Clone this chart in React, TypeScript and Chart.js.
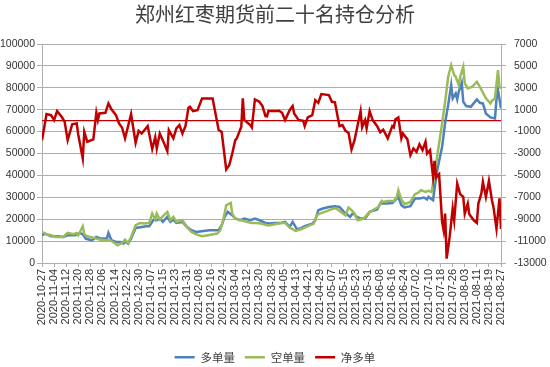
import { useEffect, useRef } from "react";
import { Chart, registerables } from "chart.js";

Chart.register(...registerables);

const titleText = "郑州红枣期货前二十名持仓分析";
const seriesNames = ["多单量", "空单量", "净多单"];

// x positions are day offsets from 2020-10-27 (date axis, label every 8 days)
const tickLabels = [
  "2020-10-27", "2020-11-04", "2020-11-12", "2020-11-20", "2020-11-28", "2020-12-06",
  "2020-12-14", "2020-12-22", "2020-12-30", "2021-01-07", "2021-01-15", "2021-01-23",
  "2021-01-31", "2021-02-08", "2021-02-16", "2021-02-24", "2021-03-04", "2021-03-12",
  "2021-03-20", "2021-03-28", "2021-04-05", "2021-04-13", "2021-04-21", "2021-04-29",
  "2021-05-07", "2021-05-15", "2021-05-23", "2021-05-31", "2021-06-08", "2021-06-16",
  "2021-06-24", "2021-07-02", "2021-07-10", "2021-07-18", "2021-07-26", "2021-08-03",
  "2021-08-11", "2021-08-19", "2021-08-27",
];

const longDays = [
  0, 2, 6, 11, 14, 17, 22, 25, 27, 29, 33, 36, 39, 43, 44, 46, 49, 52, 54, 55, 57, 59, 62, 66, 69, 71,
  74, 76, 78, 80, 83, 85, 87, 89, 93, 96, 99, 102, 107, 111, 117, 119, 121, 123, 126, 128, 131, 134,
  138, 141, 144, 148, 151, 154, 158, 161, 164, 166, 169, 171, 174, 179, 181, 183, 186, 190, 194, 197,
  200, 202, 204, 206, 208, 211, 214, 217, 222, 224, 226, 228, 232, 234, 236, 238, 240, 244, 247, 250,
  253, 255, 256, 259, 260, 262, 265, 267, 269, 271, 272, 274, 275, 276, 278, 279, 281, 284, 288, 290,
  292, 294, 297, 300, 301, 302, 304,
];
const longValues = [
  12660, 13440, 12200, 12200, 11890, 12660, 12660, 13720, 13120, 11150, 10380, 11890, 11150, 11150,
  13720, 10380, 9600, 9600, 8870, 9920, 8870, 11150, 16000, 16460, 16780, 16780, 19800, 19520, 20300,
  18750, 21030, 18750, 19840, 18290, 18750, 16460, 14950, 14170, 14630, 14950, 14950, 17240, 21030,
  23320, 21810, 20300, 19520, 20300, 19520, 20300, 19520, 18290, 18000, 18290, 18290, 18750, 16460,
  18750, 15270, 15730, 16780, 18000, 19520, 24100, 24870, 25600, 25930, 25600, 23320, 22270, 21030,
  22860, 21340, 20300, 20300, 23320, 24410, 27160, 27160, 27160, 27430, 28670, 30170, 26380, 25330,
  25930, 29440, 29440, 29900, 28990, 30170, 28670, 34000, 43150, 53030, 64000, 72100, 81250, 75160,
  77450, 74700, 78180, 82300, 73600, 71640, 71330, 74700, 73150, 72870, 68300, 66480, 66020, 74700,
  78960, 70590,
];

const shortDays = [
  0, 3, 6, 9, 14, 17, 21, 23, 24, 27, 28, 30, 34, 38, 42, 45, 48, 50, 53, 55, 57, 59, 62, 65, 68, 71,
  73, 75, 76, 78, 80, 83, 85, 87, 89, 93, 96, 99, 102, 106, 110, 116, 118, 120, 122, 125, 126, 128,
  132, 136, 139, 142, 145, 149, 151, 154, 159, 161, 164, 168, 171, 174, 180, 182, 184, 189, 193, 195,
  198, 201, 203, 205, 207, 209, 213, 216, 219, 223, 225, 226, 229, 233, 235, 236, 238, 240, 244, 247,
  249, 251, 254, 256, 258, 260, 262, 265, 267, 269, 271, 273, 274, 276, 277, 279, 280, 282, 285, 288,
  290, 294, 297, 298, 300, 302, 303, 304,
];
const shortValues = [
  14170, 13120, 12660, 11890, 11890, 13720, 13120, 13720, 12660, 16780, 13120, 12200, 11600, 10700,
  10380, 10380, 9140, 8100, 9140, 10700, 9140, 11890, 17240, 18290, 18000, 18290, 22580, 19840, 22580,
  19840, 21340, 23320, 19520, 21030, 18750, 19520, 16460, 14170, 13120, 12200, 12660, 13440, 14950,
  19520, 26380, 27430, 22580, 20300, 19520, 18750, 18290, 18290, 18000, 17240, 17240, 17700, 18290,
  18290, 16180, 14630, 15270, 16180, 18000, 21810, 22580, 23780, 24870, 24870, 23320, 21810, 25330,
  24100, 22580, 19520, 20300, 22580, 24100, 25600, 28350, 27890, 28350, 28350, 30170, 33240, 28990,
  26840, 27890, 31410, 32000, 33240, 32460, 33000, 32460, 40100, 50020, 63730, 73600, 85040, 90390,
  85820, 85040, 81250, 85040, 89610, 82020, 79730, 80460, 82750, 80460, 75160, 72870, 74060, 75160,
  88100, 80460, 79730,
];

const netDays = [
  0, 3, 6, 8, 10, 13, 15, 17, 20, 23, 24, 27, 28, 30, 34, 36, 37, 38, 42, 44, 46, 49, 51, 53, 55, 59,
  62, 64, 66, 70, 73, 75, 76, 78, 80, 83, 84, 87, 89, 91, 93, 95, 97, 98, 100, 103, 106, 113, 117, 119,
  122, 124, 126, 128, 129, 132, 133, 134, 138, 139, 141, 144, 146, 148, 149, 150, 152, 154, 157, 159,
  161, 164, 166, 167, 170, 173, 174, 176, 179, 181, 183, 185, 190, 192, 194, 197, 199, 201, 203, 205,
  207, 211, 212, 214, 215, 217, 219, 222, 224, 226, 229, 232, 233, 234, 236, 238, 239, 242, 244, 246,
  248, 250, 252, 254, 255, 257, 259, 260, 261, 263, 265, 266, 267, 268, 270, 272, 273, 275, 277, 279,
  280, 282, 283, 286, 288, 289, 291, 292, 294, 296, 298, 299, 301, 303, 304,
];
const netValues = [
  -1800, 600, 500, 50, 870, 350, -100, -1780, -340, -250, -1260, -3450, -1020, -1930, -1710, 720, 50,
  660, 720, 1570, 1030, 500, -250, -620, -1620, 600, -2020, -930, -1170, -500, -2600, -1500, -2540,
  -1170, -1780, -2790, -860, -1620, -710, -410, -1170, -500, 1180, 1270, 870, 960, 2030, 2030, -860,
  -1020, -4460, -4070, -3000, -1780, -1620, -560, 2030, 50, -410, -620, 1940, 1720, 1330, 420, 400,
  900, 870, 870, 900, 720, 50, 960, 1330, 660, 50, -10, -500, 300, 500, 1880, 1630, 2430, 2340, 1720,
  1670, -500, -410, -930, -1110, -2630, -1780, 870, -620, 50, -710, 870, 50, -500, -1060, -830, -1620,
  -500, -620, 110, 300, -1620, -1170, -1710, -3150, -2540, -2850, -2150, -2690, -1930, -3000, -2690,
  -5140, -3670, -5190, -4890, -9250, -10010, -8490, -12600, -10620, -8030, -9100, -5740, -6720, -6960,
  -8490, -7570, -8550, -9100, -9340, -7570, -6650, -5590, -6960, -5500, -7270, -7880, -9860, -7100,
  -9900,
];

const zeroLineDays = [0, 304];
const zeroLineValues = [0, 0];

const BLUE = "#4F81BD";
const GREEN = "#9BBB59";
const RED = "#C00000";
const GRID = "#ADADAD";
const TEXT = "#333333";

const toXY = (d: number[], v: number[]) => d.map((x, i) => ({ x, y: v[i] }));

export default function App() {
  const ref = useRef<HTMLCanvasElement | null>(null);

  useEffect(() => {
    if (!ref.current) return;
    const tickFont = { family: "'Liberation Sans', Arial, sans-serif", size: 10.5 };
    const chart = new Chart(ref.current, {
      type: "line",
      data: {
        datasets: [
          {
            label: seriesNames[0],
            data: toXY(longDays, longValues),
            borderColor: BLUE,
            backgroundColor: BLUE,
            borderWidth: 2.5,
            pointRadius: 0,
            tension: 0,
            yAxisID: "y",
            order: 3,
          },
          {
            label: seriesNames[1],
            data: toXY(shortDays, shortValues),
            borderColor: GREEN,
            backgroundColor: GREEN,
            borderWidth: 2.5,
            pointRadius: 0,
            tension: 0,
            yAxisID: "y",
            order: 2,
          },
          {
            label: seriesNames[2],
            data: toXY(netDays, netValues),
            borderColor: RED,
            backgroundColor: RED,
            borderWidth: 2.5,
            pointRadius: 0,
            tension: 0,
            yAxisID: "y1",
            order: 1,
          },
          {
            label: "zero",
            data: toXY(zeroLineDays, zeroLineValues),
            borderColor: RED,
            backgroundColor: RED,
            borderWidth: 1.3,
            pointRadius: 0,
            tension: 0,
            yAxisID: "y1",
            order: 4,
          },
        ],
      },
      options: {
        responsive: false,
        animation: false,
        events: [],
        layout: { padding: { top: 0, left: 0, right: 0, bottom: -6 } },
        scales: {
          x: {
            type: "linear",
            min: 0,
            max: 304,
            afterBuildTicks: (scale: any) => {
              scale.ticks = tickLabels.map((_, i) => ({ value: i * 8 }));
            },
            afterFit: (scale: any) => {
              scale.height = 78.5;
            },
            ticks: {
              autoSkip: false,
              maxRotation: 90,
              minRotation: 90,
              padding: 2,
              color: TEXT,
              font: { family: "'Liberation Sans', Arial, sans-serif", size: 11 },
              callback: (v: any) => tickLabels[Math.round(Number(v) / 8)] ?? "",
            },
            grid: {
              display: true,
              drawOnChartArea: false,
              drawTicks: true,
              tickLength: 4,
              color: GRID,
            },
            border: { display: true, color: GRID },
          },
          y: {
            type: "linear",
            position: "left",
            min: 0,
            max: 100000,
            afterFit: (scale: any) => {
              scale.width = 42;
            },
            ticks: {
              stepSize: 10000,
              padding: 2,
              color: TEXT,
              font: tickFont,
              callback: (v: any) => String(v),
            },
            grid: { color: GRID, tickLength: 5, drawTicks: true },
            border: { display: true, color: GRID },
          },
          y1: {
            type: "linear",
            position: "right",
            min: -13000,
            max: 7000,
            afterFit: (scale: any) => {
              scale.width = 49;
            },
            ticks: {
              stepSize: 2000,
              padding: 8,
              color: TEXT,
              font: tickFont,
              callback: (v: any) => String(v),
            },
            grid: { drawOnChartArea: false, color: GRID, tickLength: 5, drawTicks: true },
            border: { display: true, color: GRID },
          },
        },
        plugins: {
          tooltip: { enabled: false },
          title: {
            display: true,
            text: titleText,
            color: "#404040",
            font: { family: "'Noto Sans CJK SC', sans-serif", size: 20, weight: "normal" },
            padding: { top: 2, bottom: 18 },
          },
          legend: {
            display: true,
            position: "bottom",
            labels: {
              usePointStyle: true,
              pointStyle: "line",
              pointStyleWidth: 20,
              padding: 10,
              color: "#404040",
              font: { family: "'Noto Sans CJK SC', sans-serif", size: 11.5 },
              filter: (item: any) => item.datasetIndex < 3,
              sort: (a: any, b: any) => a.datasetIndex - b.datasetIndex,
            },
          },
        },
      },
    } as any);
    return () => chart.destroy();
  }, []);

  return (
    <div style={{ position: "absolute", left: 0, top: 0, width: 550, height: 367, background: "#ffffff" }}>
      <canvas ref={ref} width={550} height={367} style={{ width: 550, height: 367, display: "block" }} />
    </div>
  );
}
